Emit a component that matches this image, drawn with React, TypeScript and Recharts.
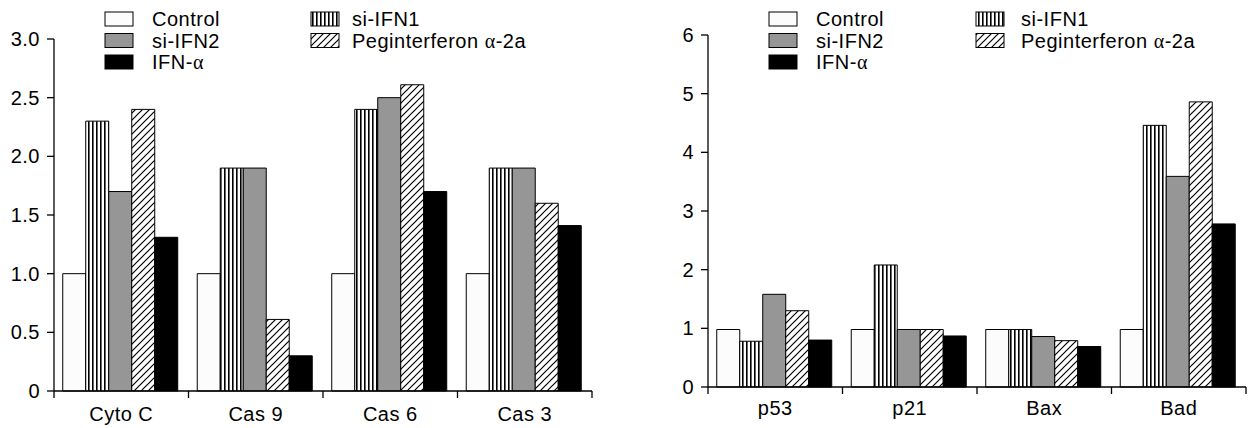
import React from 'react';
import { BarChart, Bar, XAxis, YAxis } from 'recharts';

// left panel
const groupsA = ['Cyto C', 'Cas 9', 'Cas 6', 'Cas 3'];
const controlA = [1.0, 1.0, 1.0, 1.0];
const siIfn1A = [2.3, 1.9, 2.4, 1.9];
const siIfn2A = [1.7, 1.9, 2.5, 1.9];
const pegA = [2.4, 0.61, 2.61, 1.6];
const ifnA = [1.31, 0.3, 1.7, 1.41];
const ticksA = [0, 0.5, 1.0, 1.5, 2.0, 2.5, 3.0];

// right panel
const groupsB = ['p53', 'p21', 'Bax', 'Bad'];
const controlB = [0.98, 0.98, 0.98, 0.98];
const siIfn1B = [0.78, 2.08, 0.98, 4.46];
const siIfn2B = [1.58, 0.98, 0.86, 3.59];
const pegB = [1.3, 0.98, 0.79, 4.86];
const ifnB = [0.8, 0.87, 0.69, 2.78];
const ticksB = [0, 1, 2, 3, 4, 5, 6];

const FONT = '"Liberation Sans", Arial, sans-serif';
const FS = 20;
const LS = 0.5;
const PLOT_W = 538;

const buildRows = (groups: string[], c: number[], s1: number[], s2: number[], p: number[], f: number[]) =>
  groups.map((name, i) => ({ name, control: c[i], siIfn1: s1[i], siIfn2: s2[i], peg: p[i], ifn: f[i] }));

const Alpha = () => <tspan fontFamily='"Liberation Serif", serif'>α</tspan>;

interface PanelProps {
  id: string;
  left: number;
  width: number;
  top: number;
  xAxisHeight: number;
  labelGap: number;
  rows: any[];
  domain: [number, number];
  ticks: number[];
  fmt: (v: number) => string;
  legendX: [number, number, number, number];
}

const Panel: React.FC<PanelProps> = ({ id, left, width, top, xAxisHeight, labelGap, rows, domain, ticks, fmt, legendX }) => {
  const half = PLOT_W / (2 * rows.length);
  const fill = {
    control: '#fcfcfc',
    siIfn1: `url(#${id}-vs)`,
    siIfn2: '#969696',
    peg: `url(#${id}-hatch)`,
    ifn: '#000',
  };
  const [sw1, tx1, sw2, tx2] = legendX;
  const rowsY = [19, 40.5, 62];

  const renderTick = (p: any) => {
    const { x, y, payload, index } = p;
    return (
      <g>
        <line x1={x - half} x2={x - half} y1={y} y2={y + 7} stroke="#000" strokeWidth={1.3} />
        {index === rows.length - 1 && (
          <line x1={x + half} x2={x + half} y1={y} y2={y + 7} stroke="#000" strokeWidth={1.3} />
        )}
        <text x={x} y={y + labelGap} dy="0.71em" textAnchor="middle" fill="#000" fontSize={FS} fontFamily={FONT} letterSpacing={LS}>
          {payload.value}
        </text>
      </g>
    );
  };

  const item = (sx: number, tx: number, cy: number, f: string, label: React.ReactNode) => (
    <g key={`${sx}-${cy}`}>
      <rect x={sx} y={cy - 7} width={28} height={14} fill={f} stroke="#000" strokeWidth={1} />
      <text x={tx} y={cy} dy="0.355em" fill="#000" fontSize={FS} fontFamily={FONT} letterSpacing={LS}>
        {label}
      </text>
    </g>
  );

  return (
    <div style={{ position: 'absolute', left, top: 0 }}>
      <BarChart
        width={width}
        height={428}
        data={rows}
        margin={{ top, right: width - 54 - PLOT_W, bottom: 0, left: 0 }}
        barCategoryGap="6.5%"
        barGap={0}
      >
        <defs>
          <pattern id={`${id}-vs`} width="4" height="4" patternUnits="userSpaceOnUse">
            <rect width="4" height="4" fill="#fff" />
            <rect x="0" width="1.6" height="4" fill="#000" />
          </pattern>
          <pattern id={`${id}-hatch`} width="7" height="7" patternUnits="userSpaceOnUse">
            <rect width="7" height="7" fill="#fff" />
            <path d="M-1,1 L1,-1 M0,7 L7,0 M6,8 L8,6" stroke="#000" strokeWidth="1.2" />
          </pattern>
        </defs>
        <XAxis
          dataKey="name"
          height={xAxisHeight}
          tickLine={false}
          tickSize={0}
          tickMargin={0}
          axisLine={{ stroke: '#000', strokeWidth: 1.3 }}
          tick={renderTick}
          interval={0}
        />
        <YAxis
          width={54}
          domain={domain}
          ticks={ticks}
          interval={0}
          tickFormatter={fmt}
          tickSize={7}
          tickMargin={7}
          axisLine={{ stroke: '#000', strokeWidth: 1.3 }}
          tickLine={{ stroke: '#000', strokeWidth: 1.3 }}
          tick={{ fill: '#000', fontSize: FS, fontFamily: FONT, letterSpacing: LS }}
        />
        <Bar dataKey="control" fill={fill.control} stroke="#000" strokeWidth={1} isAnimationActive={false} />
        <Bar dataKey="siIfn1" fill={fill.siIfn1} stroke="#000" strokeWidth={1} isAnimationActive={false} />
        <Bar dataKey="siIfn2" fill={fill.siIfn2} stroke="#000" strokeWidth={1} isAnimationActive={false} />
        <Bar dataKey="peg" fill={fill.peg} stroke="#000" strokeWidth={1} isAnimationActive={false} />
        <Bar dataKey="ifn" fill={fill.ifn} stroke="#000" strokeWidth={1} isAnimationActive={false} />
        <g>
          {item(sw1, tx1, rowsY[0], fill.control, 'Control')}
          {item(sw1, tx1, rowsY[1], fill.siIfn2, 'si-IFN2')}
          {item(sw1, tx1, rowsY[2], fill.ifn, <>IFN-<Alpha /></>)}
          {item(sw2, tx2, rowsY[0], fill.siIfn1, 'si-IFN1')}
          {item(sw2, tx2, rowsY[1], fill.peg, <>Peginterferon <Alpha />-2a</>)}
        </g>
      </BarChart>
    </div>
  );
};

export default function App() {
  const rowsA = buildRows(groupsA, controlA, siIfn1A, siIfn2A, pegA, ifnA);
  const rowsB = buildRows(groupsB, controlB, siIfn1B, siIfn2B, pegB, ifnB);
  return (
    <div style={{ position: 'absolute', left: 0, top: 0, width: 1248, height: 428, background: '#fff' }}>
      <Panel
        id="a"
        left={0}
        width={600}
        top={39}
        xAxisHeight={37}
        labelGap={16}
        rows={rowsA}
        domain={[0, 3]}
        ticks={ticksA}
        fmt={(v) => (v === 0 ? '0' : v.toFixed(1))}
        legendX={[105, 152, 311, 352]}
      />
      <Panel
        id="b"
        left={654}
        width={594}
        top={35}
        xAxisHeight={41}
        labelGap={14}
        rows={rowsB}
        domain={[0, 6]}
        ticks={ticksB}
        fmt={(v) => String(v)}
        legendX={[115, 162, 322, 367]}
      />
    </div>
  );
}
